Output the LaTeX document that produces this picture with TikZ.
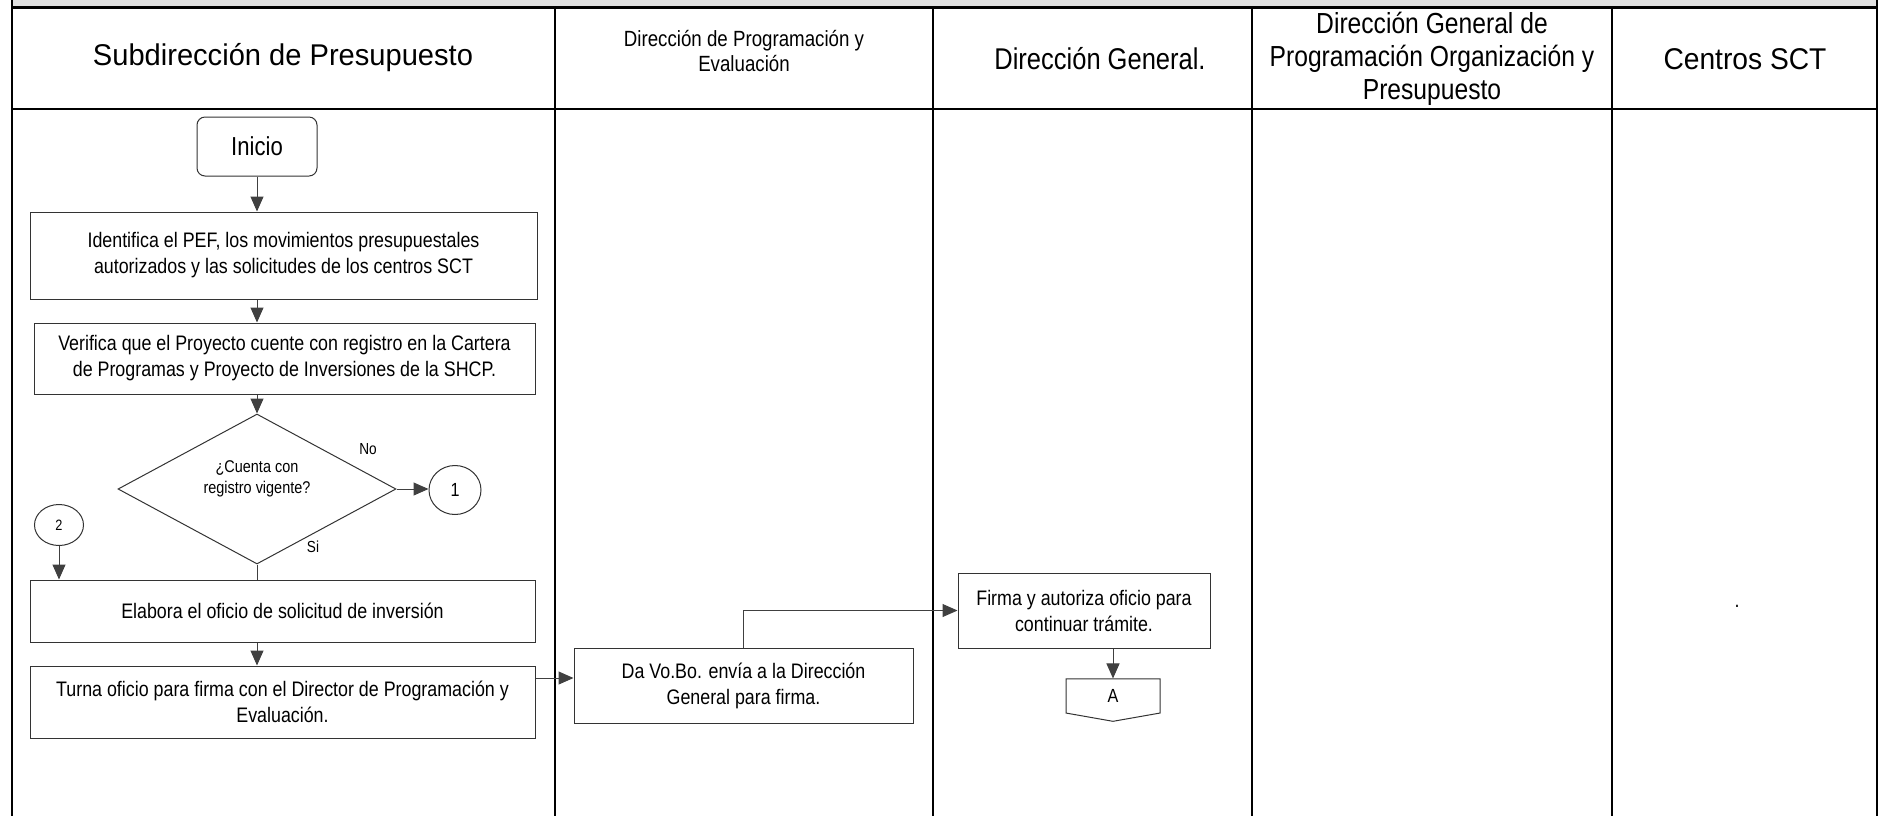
\documentclass[tikz,border=0pt]{standalone}
\usepackage{fontspec}
\setmainfont{Liberation Sans}[FakeStretch=0.85]
\newfontfamily\wideface{Liberation Sans}[FakeStretch=0.97]
\usetikzlibrary{positioning,arrows.meta,shapes.geometric,shapes.symbols}
\tikzset{
  procbox/.style={draw=black!80, line width=0.5pt, align=center, inner sep=2pt,
    font=\fontsize{10.5}{13}\selectfont},
  startbox/.style={procbox, rounded corners=4pt},
  decbox/.style={diamond, draw=black!80, line width=0.5pt, inner sep=0pt},
  dectext/.style={align=center, inner sep=0pt, font=\fontsize{8.5}{10.5}\selectfont},
  connbox/.style={ellipse, draw=black!80, line width=0.5pt, inner sep=0pt},
  pagebox/.style={signal, signal to=south, signal pointer angle=160, draw=black!80,
    line width=0.5pt, inner sep=0pt, font=\fontsize{9.5}{11}\selectfont},
  flowarrow/.style={-{Triangle[length=7.5pt,width=6.5pt]}, draw=black!75, line width=0.5pt},
  flowline/.style={draw=black!75, line width=0.5pt},
  lanehead/.style={align=center, font=\fontsize{15}{16.5}\selectfont},
  lanerule/.style={line width=1.1pt},
  flowlabel/.style={font=\fontsize{8}{9}\selectfont, inner sep=0pt},
}

\begin{document}
\begin{tikzpicture}[x=0.5pt,y=-0.5pt]
  \useasboundingbox (0,0) rectangle (1886,816);
  \fill[black!12] (12,0) rectangle (1877,7.5);
  \draw[lanerule] (12,0) -- (12,816) (1877,0) -- (1877,816);
  \draw[lanerule] (12,7.5) -- (1877,7.5) (12,109) -- (1877,109);
  \foreach \x in {555,933,1252,1612} \draw[lanerule] (\x,7.5) -- (\x,816);

  \node[lanehead, font=\wideface\fontsize{15}{16.5}\selectfont] (hsub) at (283,58) {Subdirección de Presupuesto};
  \node[lanehead, font=\fontsize{11}{12.5}\selectfont] (hdpe) at (744,51) {Dirección de Programación y\\Evaluación};
  \node[lanehead] (hdg) at (1100,59) {Dirección General.};
  \node[lanehead, font=\fontsize{14.5}{16.5}\selectfont] (hdgpop) at (1432,59) {Dirección General de\\Programación Organización  y\\Presupuesto};
  \node[lanehead, font=\fontsize{15}{16.5}\selectfont\addfontfeature{FakeStretch=0.94}] (hsct) at (1745,59) {Centros SCT};

  \node[startbox, minimum width=60pt, minimum height=29.5pt, font=\fontsize{13}{15}\selectfont] (inicio) at (257,146.5) {Inicio};
  \node[procbox, minimum width=253.5pt, minimum height=43.5pt] (idn) at (283.5,255.5) {Identifica el PEF, los movimientos presupuestales\\autorizados  y las solicitudes de los centros SCT};
  \node[procbox, minimum width=250.5pt, minimum height=35.5pt] (ver) at (284.5,358.5) {Verifica que  el Proyecto cuente con registro en  la Cartera\\de Programas y Proyecto  de Inversiones de la SHCP.};
  \node[decbox, minimum width=139pt, minimum height=75pt] (dec) at (257,489) {};
  \node[dectext] (dectxt) at (257,479) {¿Cuenta con\\registro vigente?};
  \node[connbox, minimum width=26pt, minimum height=24.5pt, font=\fontsize{9.5}{10}\selectfont] (c1) at (455,490) {1};
  \node[connbox, minimum width=24.5pt, minimum height=20.5pt, font=\fontsize{7.5}{9}\selectfont] (c2) at (59,525) {2};
  \node[procbox, minimum width=252.5pt, minimum height=31pt] (elab) at (282.5,611) {Elabora el oficio de solicitud de  inversión};
  \node[procbox, minimum width=252.5pt, minimum height=36pt] (turna) at (282.5,702) {Turna oficio  para firma con el Director de Programación y\\Evaluación.};
  \node[procbox, minimum width=169.5pt, minimum height=37.5pt] (vobo) at (743.5,685.5) {Da Vo.Bo. envía a la Dirección\\General para firma.};
  \node[procbox, minimum width=126pt, minimum height=37.5pt] (firma) at (1084,610.5) {Firma y autoriza oficio para\\continuar trámite.};
  \node[pagebox, minimum width=47pt, minimum height=17.5pt] (pa) at (1113,696) {A};
  \node[font=\fontsize{10.5}{13}\selectfont] (punto) at (1737,606) {.};

  \node[flowlabel] (lno) at (368,449) {No};
  \node[flowlabel] (lsi) at (313,547) {Si};

  \draw[flowarrow] (inicio.south) -- (inicio.south |- idn.north);
  \draw[flowarrow] (inicio.south |- idn.south) -- (inicio.south |- ver.north);
  \draw[flowarrow] (dec.north |- ver.south) -- (dec.north);
  \draw[flowarrow] (dec.east) -- (dec.east -| c1.west);
  \draw[flowline] (dec.south) -- (dec.south |- elab.north);
  \draw[flowarrow] (c2.south) -- (c2.south |- elab.north);
  \draw[flowarrow] (dec.south |- elab.south) -- (dec.south |- turna.north);
  \draw[flowarrow] ([yshift=12pt]turna.east) -- ([yshift=12pt]turna.east -| vobo.west);
  \draw[flowarrow] (vobo.north) |- (firma.west);
  \draw[flowarrow] (pa.north |- firma.south) -- (pa.north);
\end{tikzpicture}
\end{document}
